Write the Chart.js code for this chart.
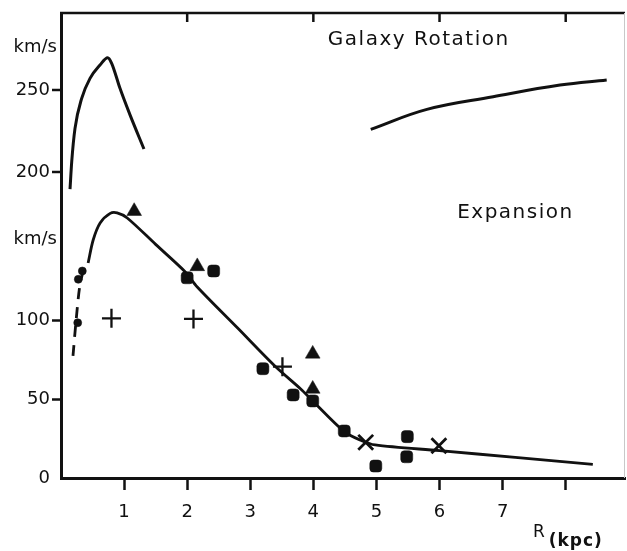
<!DOCTYPE html>
<html><head><meta charset="utf-8">
<script src="https://cdn.jsdelivr.net/npm/chart.js@4.4.0/dist/chart.umd.min.js"></script>
<style>html,body{margin:0;padding:0;background:#fff}#wrap{width:627px;height:551px}</style>
</head><body><div id="wrap"><canvas id="c" width="627" height="551"></canvas></div>
<script>
// ---- tick labels / text ----
const xTicks = [1, 2, 3, 4, 5, 6, 7, 8];
const xTickLabels = ['1', '2', '3', '4', '5', '6', '7', ''];
const topTicks = [2, 4, 6, 8];
const expansionTicks = [0, 50, 100];
const rotationTicks = [200, 250];
const unitLabel = 'km/s';
const unitPosExpansion = 152;   // expansion-scale value of lower "km/s"
const unitPosRotation = 276;    // rotation-scale value of upper "km/s"
const titleRotation = 'Galaxy Rotation';
const titleRotationAt = { x: 4.23, y: 280.5 };  // (R, rotation km/s)
const titleExpansion = 'Expansion';
const titleExpansionAt = { x: 6.28, y: 168.5 }; // (R, expansion km/s)
const xTitleMain = 'R';
const xTitleSub = '(kpc)';
const xTitleAt = 7.48;

// ---- measured points (R kpc, expansion km/s) ----
const triangles = [
  { x: 1.16, y: 169.6 }, { x: 2.16, y: 134.5 }, { x: 3.99, y: 78.9 }, { x: 3.99, y: 56.6 }
];
const squares = [
  { x: 2.0, y: 127.3 }, { x: 2.42, y: 131.6 }, { x: 3.2, y: 69.5 }, { x: 3.68, y: 52.8 },
  { x: 3.99, y: 49 }, { x: 4.49, y: 29.9 }, { x: 4.99, y: 7.6 }, { x: 5.49, y: 26.3 }, { x: 5.48, y: 13.5 }
];
const circles = [ { x: 0.274, y: 126.3 }, { x: 0.338, y: 131.6 }, { x: 0.265, y: 98.7 } ];
const pluses = [ { x: 0.8, y: 101.5 }, { x: 2.1, y: 101.1 }, { x: 3.51, y: 70.8 } ];
const crosses = [ { x: 4.83, y: 22.7 }, { x: 5.99, y: 20.5 } ];

// ---- curves ----
const expSolidR = [0.43, 0.51, 0.62, 0.78, 0.89, 1.05, 1.5, 1.97, 2.16, 2.8, 3.39, 3.80, 3.99, 4.49, 4.74, 4.98, 6.0, 7.2, 8.43];
const expSolidV = [136.7, 151.3, 162.1, 168.2, 168.5, 165.3, 148.5, 131, 121.4, 95.3, 71.2, 56.6, 49, 29.5, 24.2, 21, 17.4, 13.1, 8.7];
const expDashR = [0.19, 0.24, 0.30, 0.36, 0.43];
const expDashV = [77.6, 100.4, 122.7, 132, 136.7];
const rotInnerR = [0.143, 0.170, 0.222, 0.328, 0.460, 0.618, 0.740, 0.803, 0.935, 1.094, 1.315];
const rotInnerV = [189.6, 206.3, 226.6, 244.9, 257.1, 265.2, 269.7, 266.3, 251.0, 234.8, 214.0];
const rotOuterR = [4.91, 5.80, 6.85, 7.91, 8.65];
const rotOuterV = [226.0, 238.2, 245.9, 253.0, 256.1];

const zip = (xs, ys) => xs.map((x, i) => ({ x, y: ys[i] }));
const INK = '#111';
const FONT = 'DejaVu Sans';

const markerBase = { showLine: false, backgroundColor: INK, borderColor: INK, order: 0, yAxisID: 'y' };
const lineBase = { showLine: true, pointRadius: 0, borderColor: INK, borderWidth: 2.8, fill: false, order: 1 };

const decor = {
  id: 'decor',
  afterDraw(chart) {
    const { ctx, chartArea: a, scales } = chart;
    const x = scales.x, y = scales.y, y2 = scales.y2;
    ctx.save();
    ctx.strokeStyle = INK; ctx.fillStyle = INK;
    // top frame
    ctx.lineWidth = 2.5;
    ctx.beginPath(); ctx.moveTo(a.left - 1, a.top); ctx.lineTo(a.right, a.top); ctx.stroke();
    topTicks.forEach(v => { const px = x.getPixelForValue(v);
      ctx.beginPath(); ctx.moveTo(px, a.top); ctx.lineTo(px, a.top + 9); ctx.stroke(); });
    // right frame (faint)
    ctx.strokeStyle = '#c8c8c8'; ctx.lineWidth = 1;
    ctx.beginPath(); ctx.moveTo(a.right - 0.5, a.top); ctx.lineTo(a.right - 0.5, a.bottom); ctx.stroke();
    ctx.strokeStyle = INK;
    // rotation scale ticks
    ctx.font = '18px "' + FONT + '"';
    ctx.textAlign = 'right'; ctx.textBaseline = 'middle';
    ctx.lineWidth = 2.5;
    rotationTicks.forEach(v => { const py = y2.getPixelForValue(v);
      ctx.beginPath(); ctx.moveTo(a.left - 9, py); ctx.lineTo(a.left, py); ctx.stroke();
      ctx.fillText(String(v), a.left - 11, py); });
    ctx.fillText(unitLabel, a.left - 4, y2.getPixelForValue(unitPosRotation));
    ctx.fillText(unitLabel, a.left - 4, y.getPixelForValue(unitPosExpansion));
    // titles
    ctx.textAlign = 'left';
    ctx.font = '20px "' + FONT + '"';
    ctx.letterSpacing = '1.5px';
    ctx.fillText(titleRotation, x.getPixelForValue(titleRotationAt.x), y2.getPixelForValue(titleRotationAt.y));
    ctx.fillText(titleExpansion, x.getPixelForValue(titleExpansionAt.x), y.getPixelForValue(titleExpansionAt.y));
    // axis title R(kpc)
    ctx.letterSpacing = '0px';
    ctx.textBaseline = 'alphabetic';
    const rx = x.getPixelForValue(xTitleAt);
    ctx.font = '17px "' + FONT + '"';
    ctx.fillText(xTitleMain, rx, a.bottom + 59);
    const w = ctx.measureText(xTitleMain).width;
    ctx.font = 'bold 17px "' + FONT + '"';
    ctx.letterSpacing = '1px';
    ctx.fillText(xTitleSub, rx + w + 4, a.bottom + 68);
    ctx.restore();
  }
};

new Chart(document.getElementById('c'), {
  type: 'scatter',
  data: {
    datasets: [
      { ...markerBase, label: 'triangles', data: triangles, pointStyle: 'triangle', pointRadius: 8.5, pointBorderWidth: 0.5 },
      { ...markerBase, label: 'squares', data: squares, pointStyle: 'rectRounded', pointRadius: 7, pointBorderWidth: 0.5 },
      { ...markerBase, label: 'circles', data: circles, pointStyle: 'circle', pointRadius: 4, pointBorderWidth: 0.5 },
      { ...markerBase, label: 'plus', data: pluses, pointStyle: 'cross', pointRadius: 9.5, pointBorderWidth: 2.3 },
      { ...markerBase, label: 'x', data: crosses, pointStyle: 'crossRot', pointRadius: 10.5, pointBorderWidth: 2.8 },
      { ...lineBase, label: 'expansion', data: zip(expSolidR, expSolidV), yAxisID: 'y', tension: 0.3 },
      { ...lineBase, label: 'expansion inner', data: zip(expDashR, expDashV), yAxisID: 'y', borderDash: [11, 8], tension: 0.3 },
      { ...lineBase, label: 'rotation inner', data: zip(rotInnerR, rotInnerV), yAxisID: 'y2', borderWidth: 3, cubicInterpolationMode: 'monotone' },
      { ...lineBase, label: 'rotation outer', data: zip(rotOuterR, rotOuterV), yAxisID: 'y2', borderWidth: 3, tension: 0.4 }
    ]
  },
  options: {
    responsive: false, animation: false, devicePixelRatio: 1,
    layout: { autoPadding: false, padding: { top: 13, right: 2, left: 0, bottom: 0 } },
    plugins: { legend: { display: false }, tooltip: { enabled: false } },
    scales: {
      x: {
        type: 'linear', min: 0, max: 8.94,
        afterBuildTicks: s => { s.ticks = xTicks.map(v => ({ value: v })); },
        afterFit: s => { s.height = 73; s.paddingLeft = 0; s.paddingRight = 0; },
        ticks: { callback: (v, i) => xTickLabels[i], font: { family: FONT, size: 18 }, color: INK,
          padding: 12, maxRotation: 0, autoSkip: false },
        grid: { drawOnChartArea: false, drawTicks: true, tickLength: 12, tickWidth: 2.5, tickColor: INK },
        border: { color: INK, width: 3 }
      },
      y: {
        type: 'linear', position: 'left', min: 0, max: 295.6,
        afterBuildTicks: s => { s.ticks = expansionTicks.map(v => ({ value: v })); },
        afterFit: s => { s.width = 61; s.paddingTop = 0; s.paddingBottom = 0; },
        ticks: { font: { family: FONT, size: 18 }, color: INK, padding: 2 },
        grid: { drawOnChartArea: false, drawTicks: true, tickLength: 9, tickWidth: 2.5,
          tickColor: c => (c.tick && c.tick.value === 0) ? 'rgba(0,0,0,0)' : INK },
        border: { color: INK, width: 3 }
      },
      y2: { type: 'linear', position: 'left', display: false, min: 13.4, max: 296.95 }
    }
  },
  plugins: [decor]
});
</script></body></html>
